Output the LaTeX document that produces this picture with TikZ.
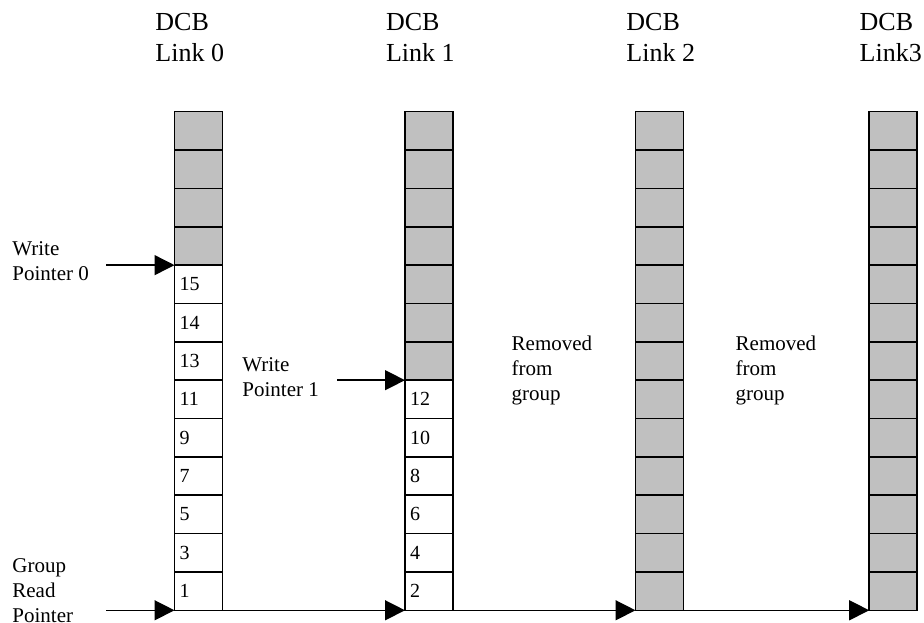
\documentclass[tikz,border=0pt]{standalone}
\usepackage{fontspec}
\setmainfont{Liberation Serif}
\usetikzlibrary{positioning,chains,arrows.meta}
\definecolor{slotgray}{RGB}{192,192,192}
\tikzset{
>={Triangle[length=10pt,width=10pt]},
  slot/.style={
    rectangle,
    fill=slotgray,
    draw=black, line width=0.75pt,
    minimum width=24pt,
    minimum height=19.175pt,
    inner sep=0pt, outer sep=0pt,
    on chain},
  entry/.style={
    slot,
    fill=white,
    text width=19pt, inner xsep=2.5pt,
    align=left,
    font=\fontsize{10}{12}\selectfont},
  caption/.style={anchor=base west, align=left, inner sep=0pt,
    font=\fontsize{10.5}{12.5}\selectfont},
  heading/.style={caption, font=\fontsize{13}{15.5}\selectfont},
  pointer/.style={draw, line width=0.7pt, ->}
}

\begin{document}
\begin{tikzpicture}
  [x=0.5pt, y=-0.5pt,
  node distance=0pt]
  \useasboundingbox (0,0) rectangle (924,622);

  % DCB link 0
  \begin{scope}[start chain=going below]
    \node[slot] (l0-1) at (198.5,130.9) {};
    \foreach \i in {2,...,4} \node[slot] (l0-\i) {};
    \foreach \n [count=\i from 5] in {15,14,13,11,9,7,5,3,1}
      \node[entry] (l0-\i) {\n};
  \end{scope}

  % DCB link 1
  \begin{scope}[start chain=going below]
    \node[slot] (l1-1) at (429,130.9) {};
    \foreach \i in {2,...,7} \node[slot] (l1-\i) {};
    \foreach \n [count=\i from 8] in {12,10,8,6,4,2}
      \node[entry] (l1-\i) {\n};
  \end{scope}

  % DCB link 2 and 3
  \begin{scope}[start chain=going below]
    \node[slot] (l2-1) at (659.5,130.9) {};
    \foreach \i in {2,...,13} \node[slot] (l2-\i) {};
  \end{scope}
  \begin{scope}[start chain=going below]
    \node[slot] (l3-1) at (893.2,130.9) {};
    \foreach \i in {2,...,13} \node[slot] (l3-\i) {};
  \end{scope}

  \node[heading] (hd0) at (155,61) {DCB\\Link 0};
  \node[heading] (hd1) at (385.7,61) {DCB\\Link 1};
  \node[heading] (hd2) at (626,61) {DCB\\Link 2};
  \node[heading] (hd3) at (859.3,61) {DCB\\Link3};

  \node[caption] (wp0) at (12,280) {Write\\Pointer 0};
  \node[caption] (wp1) at (242,396) {Write\\Pointer 1};
  \node[caption] (grp) at (12,622.7) {Group\\Read\\Pointer};
  \node[caption] (rm2) at (511.3,400) {Removed\\from\\group};
  \node[caption] (rm3) at (735.3,400) {Removed\\from\\group};

  \coordinate (wp0tail) at (106,0 |- l0-4.south west);
  \coordinate (wp1tail) at (337,0 |- l1-7.south west);
  \coordinate (grptail) at (106,0 |- l0-13.south west);

  \draw[pointer] (wp0tail) -- (l0-4.south west);
  \draw[pointer] (wp1tail) -- (l1-7.south west);
  \draw[pointer] (grptail) -- (l0-13.south west);
  \draw[pointer] (l0-13.south east) -- (l1-13.south west);
  \draw[pointer] (l1-13.south east) -- (l2-13.south west);
  \draw[pointer] (l2-13.south east) -- (l3-13.south west);
\end{tikzpicture}
\end{document}
